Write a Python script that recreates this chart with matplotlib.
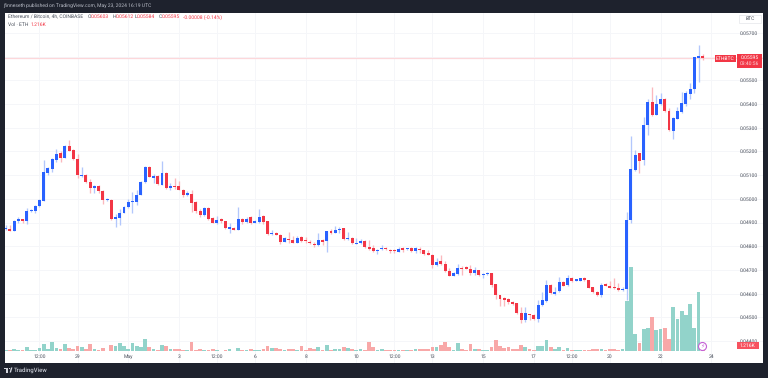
import matplotlib
matplotlib.use("Agg")
import matplotlib.pyplot as plt
from matplotlib.patches import Rectangle, Ellipse, Polygon

# prices in 1e-5 BTC, volume in K ETH
opens = [4871,4874,4866,4908,4914,4908,4949,4949,4970,4992,5111,5127,5165,5192,5174,5223,5205,5168,5096,5102,
         5071,5047,5054,5033,4995,4997,4916,4919,4942,4966,4988,4988,5016,5071,5136,5089,5096,5060,5111,5044,
         5053,5053,5039,5015,5020,4987,4949,4932,4963,4918,4897,4915,4905,4874,4877,4870,4916,4902,4922,4899,
         4904,4928,4907,4850,4857,4849,4819,4832,4825,4815,4838,4826,4819,4811,4805,4826,4822,4863,4856,4869,
         4876,4829,4836,4811,4812,4822,4797,4791,4779,4787,4791,4786,4786,4777,4791,4787,4791,4779,4790,4783,
         4770,4763,4720,4736,4727,4694,4676,4684,4710,4711,4705,4689,4698,4677,4682,4686,4639,4593,4583,4577,
         4565,4559,4520,4489,4514,4511,4493,4552,4570,4635,4597,4610,4651,4637,4665,4655,4655,4665,4658,4627,
         4607,4594,4641,4632,4627,4625,4615,4618,4911,5122,5192,5164,5312,5410,5355,5400,5421,5371,5288,5338,
         5367,5402,5444,5464,5596,5603]
highs = [4890,4890,4911,4925,4916,4961,4956,4975,4998,5164,5136,5174,5212,5203,5229,5247,5209,5191,5133,5106,
         5082,5060,5057,5037,5004,5001,4935,4956,4970,4998,5030,5037,5075,5139,5139,5106,5101,5161,5113,5068,
         5089,5075,5043,5033,5036,4991,4956,4966,4966,4922,4928,4919,4908,4897,4880,4966,4921,4922,4928,4911,
         4956,4930,4908,4869,4859,4852,4838,4860,4843,4841,4843,4838,4826,4819,4857,4831,4866,4873,4887,4879,
         4877,4862,4838,4834,4829,4826,4826,4804,4787,4804,4795,4790,4790,4798,4795,4794,4798,4797,4795,4786,
         4784,4766,4752,4762,4739,4708,4693,4724,4717,4717,4719,4711,4700,4686,4693,4689,4642,4596,4584,4582,
         4568,4562,4545,4545,4514,4514,4573,4608,4658,4639,4629,4669,4655,4679,4669,4663,4667,4669,4659,4629,
         4610,4644,4646,4655,4666,4646,4627,4946,5265,5206,5195,5347,5420,5471,5438,5448,5424,5385,5344,5389,
         5452,5455,5488,5600,5649,5612]
lows = [4867,4863,4864,4897,4899,4894,4944,4939,4967,4990,5101,5115,5157,5156,5171,5201,5163,5089,5094,5068,
        5026,5026,5023,4978,4990,4912,4883,4888,4939,4961,4942,4975,5015,5068,5091,5065,5057,5057,5040,5037,
        5040,5036,5009,5012,4945,4939,4925,4928,4912,4897,4894,4897,4874,4854,4867,4868,4892,4897,4892,4897,
        4897,4894,4849,4848,4848,4808,4817,4815,4812,4812,4818,4815,4810,4798,4801,4805,4774,4852,4855,4855,
        4826,4826,4810,4810,4810,4793,4786,4777,4769,4784,4784,4772,4770,4774,4777,4784,4777,4773,4770,4764,
        4762,4707,4717,4722,4691,4673,4673,4679,4679,4703,4679,4677,4674,4666,4679,4629,4579,4549,4549,4556,
        4552,4514,4475,4482,4489,4489,4478,4549,4566,4599,4594,4607,4631,4634,4651,4652,4652,4655,4622,4601,
        4590,4587,4630,4622,4618,4613,4610,4573,4897,5119,5111,5143,5269,5351,5354,5397,5367,5288,5254,5335,
        5364,5392,5420,5448,5494,5584]
closes = [4877,4866,4908,4914,4907,4949,4953,4971,4995,5113,5129,5167,5189,5174,5224,5203,5167,5099,5102,5073,
          5047,5054,5035,4995,5001,4915,4923,4942,4964,4987,4991,5016,5073,5136,5094,5096,5061,5111,5044,5053,
          5049,5039,5015,5023,4982,4949,4932,4963,4915,4899,4911,4906,4876,4880,4870,4915,4902,4916,4897,4906,
          4925,4904,4852,4857,4849,4817,4834,4826,4815,4836,4821,4824,4812,4803,4825,4819,4863,4855,4870,4873,
          4829,4835,4812,4814,4822,4795,4788,4780,4783,4793,4787,4779,4780,4790,4786,4791,4780,4791,4783,4767,
          4763,4721,4735,4725,4694,4676,4687,4708,4705,4705,4689,4700,4679,4682,4689,4635,4593,4577,4575,4565,
          4556,4517,4489,4517,4511,4493,4552,4573,4635,4601,4608,4649,4634,4665,4655,4660,4665,4658,4625,4606,
          4593,4638,4632,4625,4622,4615,4621,4911,5125,5185,5161,5310,5410,5354,5400,5421,5369,5291,5340,5369,
          5404,5445,5464,5597,5603,5595]
volumes = [.27,.20,.40,.33,.27,.80,.33,.20,.60,1.53,.40,1.87,.67,.47,1.40,.60,.47,1.13,.87,.53,
           1.40,.40,.27,.60,.13,1.27,1.07,1.67,1.00,.53,1.73,1.07,.93,2.53,.93,.47,.20,1.27,1.07,.47,
           .53,.40,.27,.27,1.80,.33,.53,.33,.27,.47,.27,.13,.20,.53,.13,.67,.33,.20,.40,.20,
           .20,.53,1.07,.60,.67,.40,.20,.47,.53,.27,1.07,.20,.60,.53,.87,.27,1.20,.27,.40,.53,
           .87,.60,.40,.27,.40,.27,1.93,.93,.27,.40,.20,.27,.33,.27,.20,.20,.20,.40,.40,.40,
           .40,.93,.80,1.20,1.87,.87,.20,1.60,.47,.20,1.47,.47,.47,.27,.27,.87,2.27,1.13,.73,.87,
           .40,.53,1.27,.80,.40,.33,1.13,1.13,2.27,.87,.40,.80,.33,.67,.33,.20,.20,.20,.27,.40,
           .40,.40,.20,.40,.53,.33,.53,10.07,16.93,3.40,1.67,4.47,4.73,6.87,4.27,4.47,4.67,2.53,
           8.87,6.40,8.07,7.33,9.47,4.67,11.87,1.216]

x_ticks = [9, 18, 30, 42, 51, 60, 72, 84, 93, 102, 114, 126, 135, 144, 156, 168]
x_labels = ["12:00", "29", "May", "3", "12:00", "6", "8", "10", "12:00", "13", "15", "17", "12:00", "20", "22", "24"]
y_ticks = [4400 + 100*i for i in range(14)]

BLUE = "#2962ff"
RED = "#f23645"
DARK = "#1e222d"
GRID = "#f5f6f9"
TEXT = "#4c525e"

plt.rcParams["font.family"] = "Roboto"
plt.rcParams["text.hinting"] = "no_hinting"
plt.rcParams["text.hinting_factor"] = 1
fig = plt.figure(figsize=(7.68, 3.78), dpi=100, facecolor=DARK)

# white chart pane in pixel coordinates
L, R, T, B = 4.5, 763, 12.7, 363
ax = fig.add_axes([L/768, 1-B/378, (R-L)/768, (B-T)/378], facecolor="white")
ax.set_xlim(0.72, 180.25)
ax.set_ylim(4307, 5785.7)

bars = range(1, len(closes)+1)
up = [c >= o for o, c in zip(opens, closes)]
wick_col = ["#b3c7fc" if u else "#fbb8bd" for u in up]
body_col = [BLUE if u else RED for u in up]
ax.vlines(bars, lows, highs, colors=wick_col, linewidth=0.95, zorder=2)
ax.bar(bars, [max(abs(c-o), 3) for o, c in zip(opens, closes)], bottom=[min(o, c) for o, c in zip(opens, closes)],
       width=0.7, color=body_col, linewidth=0, zorder=3)
ax.axhline(closes[-1], color="#fdd7da", linewidth=0.9, zorder=1)

# volume pane shares the bar axis, bottom strip only
vol = ax.twinx()
vol.set_ylim(-2.34, 67.7)
vol.patch.set_visible(False)
vol.bar(bars, volumes, width=0.88, color=["#92d3ca" if u else "#f8a8a8" for u in up], linewidth=0, zorder=2)
vol.set_yticks([])
for s in vol.spines.values():
    s.set_visible(False)

ax.set_xticks(x_ticks)
ax.set_xticklabels(x_labels, fontsize=3.8, color=TEXT)
ax.set_yticks(y_ticks)
ax.set_yticklabels(["0.0%d" % v if v != 5600 else "" for v in y_ticks], fontsize=3.8, color=TEXT, ha="right")
ax.yaxis.tick_right()
ax.tick_params(axis="y", length=0, pad=-3.6)
ax.tick_params(axis="x", length=0, pad=-6.3)
ax.grid(True, color=GRID, linewidth=0.7, zorder=0)
ax.set_axisbelow(True)
for s in ax.spines.values():
    s.set_visible(False)


def box(x0, y0, x1, y1, fc, ec="none", lw=0):
    fig.add_artist(Rectangle((x0/768, 1-y1/378), (x1-x0)/768, (y1-y0)/378, transform=fig.transFigure,
                             facecolor=fc, edgecolor=ec, linewidth=lw))


def label(x, y, s, color=TEXT, size=3.8, ha="left", **kw):
    return fig.text(x/768, 1-y/378, s, color=color, fontsize=size, ha=ha, va="center", **kw)


label(3, 6, "jfinneseth published on TradingView.com, May 23, 2024 16:19 UTC", color="#b8bcc6", size=3.75)

label(7.5, 17, "Ethereum / Bitcoin, 4h, COINBASE", size=3.7)
for xp, part, col in [(88, "O", TEXT), (90.7, "0.05603", RED), (113, "H", TEXT), (115.5, "0.05612", RED),
                      (135, "L", TEXT), (137, "0.05584", RED), (159, "C", TEXT), (161.5, "0.05595", RED),
                      (183, "-0.00008 (-0.14%)", RED)]:
    label(xp, 17, part, color=col, size=3.7)
label(7.5, 24.5, "Vol \u00b7 ETH", size=3.7)
label(31, 24.5, "1.216K", color=RED, size=3.7)

# price labels on the right
box(739, 14.5, 761, 23, "white", ec="#e4e6ea", lw=0.5)
label(746, 18.8, "BTC", size=3.4)
box(714.7, 55, 736, 62, RED)
label(725.3, 58.5, "ETHBTC", color="white", size=3.6, ha="center")
box(737, 54.5, 762, 67.5, RED)
label(749.5, 58, "0.05595", color="white", size=3.8, ha="center")
label(749.5, 64, "03:40:56", color="#fbd5d8", size=3.6, ha="center")
box(737, 342, 758.5, 349, "#f7525f")
label(747.7, 345.5, "1.216K", color="white", size=3.8, ha="center")

# flash icon beside the last bar
fig.add_artist(Ellipse((702.5/768, 1-346.5/378), 8/768, 8/378, transform=fig.transFigure, facecolor="white",
                       edgecolor="#c45fd6", linewidth=0.8))
label(702.5, 346.5, "\u26a1", color="#c45fd6", size=4.2, ha="center", family=["DejaVu Sans"])

# footer logo and name
box(4.3, 367.5, 8, 369, "#d1d4dc")
box(6, 367.5, 8, 372.5, "#d1d4dc")
box(8.8, 367.5, 10, 369, "#d1d4dc")
fig.add_artist(Polygon([(9.6/768, 1-372.5/378), (11/768, 1-367.5/378), (12.4/768, 1-367.5/378), (11/768, 1-372.5/378)],
                       transform=fig.transFigure, facecolor="#d1d4dc", edgecolor="none"))
label(14, 370.5, "TradingView", color="#c4c7d0", size=4.0, weight="medium")

fig.savefig("out.png", dpi=100, facecolor=DARK)
